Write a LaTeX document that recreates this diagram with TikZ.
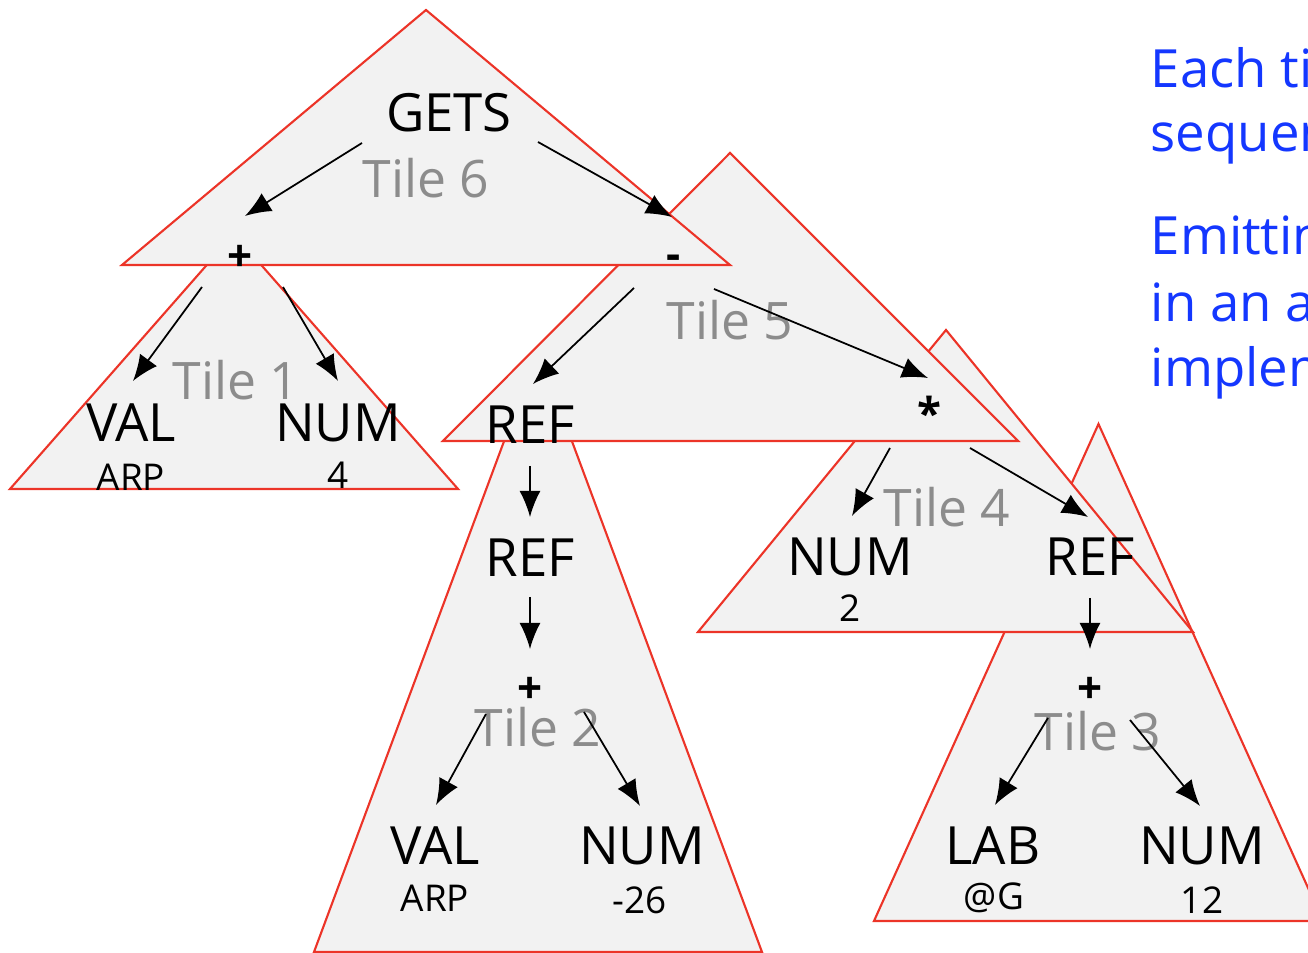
\documentclass[tikz,border=0pt]{standalone}
\usepackage{fontspec}
\setmainfont{Open Sans}
\usetikzlibrary{arrows.meta}

\definecolor{tilered}{RGB}{236,52,40}
\definecolor{tilefill}{RGB}{242,242,242}
\definecolor{tilegrey}{RGB}{140,140,140}
\definecolor{noteblue}{RGB}{20,55,255}

\begin{document}
\begin{tikzpicture}[x=0.1mm, y=-0.1mm,
    tile/.style={draw=tilered, fill=tilefill, line width=0.6pt},
    op/.style={inner sep=0pt, font=\fontsize{15}{18}\selectfont},
    arg/.style={inner sep=0pt, font=\fontsize{10.5}{12}\selectfont},
    sym/.style={inner sep=0pt, font=\bfseries\fontsize{12.5}{14}\selectfont},
    tilename/.style={inner sep=0pt, text=tilegrey, font=\fontsize{14.7}{18}\selectfont},
    note/.style={anchor=base west, inner sep=0pt, text=noteblue, font=\fontsize{15}{18}\selectfont},
    arr/.style={-{Latex[length=2.6mm, width=2.1mm]}, line width=0.5pt}]
    \useasboundingbox (0,0) rectangle (1308,953);
    \clip (0,0) rectangle (1308,953);

    % tiles, back to front
    \draw[tile] (1098.5,424) -- (1323,921) -- (874,921) -- cycle;  % tile 3
    \draw[tile] (946,330) -- (1193,632) -- (698,632) -- cycle;       % tile 4
    \draw[tile] (538,350) -- (762,952) -- (314,952) -- cycle;        % tile 2
    \draw[tile] (730,153) -- (1018,441) -- (443,441) -- cycle;       % tile 5
    \draw[tile] (234,234) -- (458,489) -- (10,489) -- cycle;         % tile 1
    \draw[tile] (426,10) -- (730,265) -- (122,265) -- cycle;         % tile 6

    \node[tilename] (tileSix) at (426,178) {Tile 6};
    \node[tilename] (tileOne) at (236,380) {Tile 1};
    \node[tilename] (tileFive) at (730,320) {Tile 5};
    \node[tilename] (tileTwo) at (538,727) {Tile 2};
    \node[tilename] (tileFour) at (947,507) {Tile 4};
    \node[tilename] (tileThree) at (1098,731) {Tile 3};

    % tree
    \node[op] (gets) at (449,113) {GETS};
    \node[sym] (plusA) at (240,258) {+};
    \node[sym] (minus) at (674,262) {-};
    \node[op] (valA) at (131,423) {VAL};
    \node[arg] (arpA) at (131,477) {ARP};
    \node[op] (numA) at (338,423) {NUM};
    \node[arg] (fourA) at (338,475) {4};
    \node[op] (refA) at (530,425) {REF};
    \node[sym] (star) at (929,413) {*};
    \node[op] (refB) at (530,558) {REF};
    \node[sym] (plusB) at (530,690) {+};
    \node[op] (valB) at (435,846) {VAL};
    \node[arg] (arpB) at (435,898) {ARP};
    \node[op] (numB) at (642,846) {NUM};
    \node[arg] (offB) at (640,900) {-26};
    \node[op] (numC) at (850,557) {NUM};
    \node[arg] (twoC) at (850,608) {2};
    \node[op] (refC) at (1090,557) {REF};
    \node[sym] (plusC) at (1090,690) {+};
    \node[op] (lab) at (993,846) {LAB};
    \node[arg] (atG) at (994,898) {@G};
    \node[op] (numD) at (1202,846) {NUM};
    \node[arg] (twelve) at (1202,900) {12};

    \draw[arr] ([shift={(-87,30)}]gets.center) -- ([shift={(5,-42)}]plusA.center);
    \draw[arr] ([shift={(89,29)}]gets.center) -- ([shift={(-2,-45)}]minus.center);
    \draw[arr] ([shift={(-38,29)}]plusA.center) -- ([shift={(2,-42)}]valA.center);
    \draw[arr] ([shift={(43,29)}]plusA.center) -- ([shift={(0,-42)}]numA.center);
    \draw[arr] ([shift={(-40,26)}]minus.center) -- ([shift={(3,-41)}]refA.center);
    \draw[arr] ([shift={(40,27)}]minus.center) -- ([shift={(-1,-35)}]star.center);
    \draw[arr] ([shift={(0,41)}]refA.center) -- ([shift={(0,-41)}]refB.center);
    \draw[arr] ([shift={(0,39)}]refB.center) -- ([shift={(0,-41)}]plusB.center);
    \draw[arr] ([shift={(-44,24)}]plusB.center) -- ([shift={(1,-41)}]valB.center);
    \draw[arr] ([shift={(54,22)}]plusB.center) -- ([shift={(-2,-40)}]numB.center);
    \draw[arr] ([shift={(-39,35)}]star.center) -- ([shift={(2,-41)}]numC.center);
    \draw[arr] ([shift={(41,35)}]star.center) -- ([shift={(-2,-40)}]refC.center);
    \draw[arr] ([shift={(0,41)}]refC.center) -- ([shift={(0,-41)}]plusC.center);
    \draw[arr] ([shift={(-42,28)}]plusC.center) -- ([shift={(2,-41)}]lab.center);
    \draw[arr] ([shift={(40,30)}]plusC.center) -- ([shift={(-2,-40)}]numD.center);

    % side remarks, cut off at the right edge
    \node[note] (noteA) at (1150,88) {Each tile};
    \node[note] (noteB) at (1150,152) {sequence};
    \node[note] (noteC) at (1150,255) {Emitting};
    \node[note] (noteD) at (1150,322) {in an appropriate};
    \node[note] (noteE) at (1150,387) {implements};
\end{tikzpicture}
\end{document}
